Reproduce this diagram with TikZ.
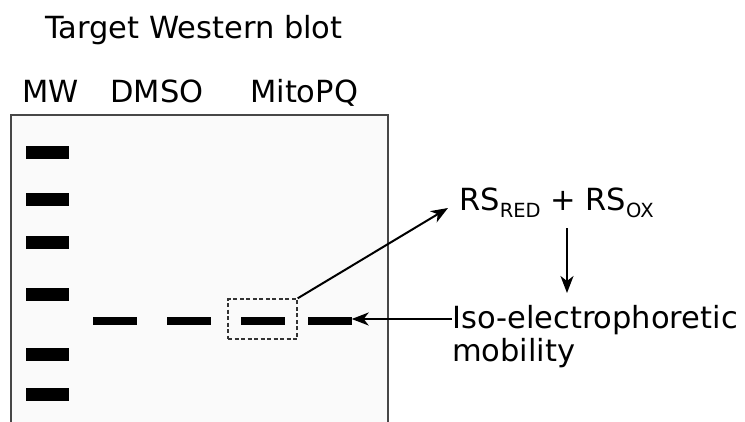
\documentclass[tikz,border=0pt]{standalone}
\usepackage{fontspec}
\setmainfont{DejaVu Sans}
\usetikzlibrary{arrows.meta}
\begin{document}
\begin{tikzpicture}[x=1pt,y=-1pt,
  lbl/.style={inner sep=0pt,anchor=base west,font=\fontsize{30.5}{36}\selectfont},
  mwband/.style={fill=black,inner sep=0pt,minimum width=43pt,minimum height=13pt},
  sband/.style={fill=black,inner sep=0pt,minimum width=44pt,minimum height=8pt},
  arr/.style={line width=2pt,-{Stealth[length=17pt,width=13pt,inset=5pt]}}]
\useasboundingbox (0,0) rectangle (745,421);
\begin{scope}
\clip (0,0) rectangle (745,421);
\draw[line width=2pt,draw=black!72,fill=black!2] (11,115) rectangle (388,440);
\end{scope}
\node[lbl] (title) at (45,38) {Target Western blot};
\node[lbl] (mw) at (22,102) {MW};
\node[lbl] (dmso) at (110,102) {DMSO};
\node[lbl] (mito) at (250,102) {MitoPQ};
\node[mwband] (m1) at (47.5,152.5) {};
\node[mwband] (m2) at (47.5,199.5) {};
\node[mwband] (m3) at (47.5,242.5) {};
\node[mwband] (m4) at (47.5,294.5) {};
\node[mwband] (m5) at (47.5,354.5) {};
\node[mwband] (m6) at (47.5,394.5) {};
\node[sband] (b1) at (115,320.5) {};
\node[sband] (b2) at (188.5,320.5) {};
\node[sband] (b3) at (263,320.5) {};
\node[sband] (b4) at (329.5,320.5) {};
\node[draw=black!80,dash pattern=on 4pt off 2.5pt,line width=1.4pt,inner sep=0pt,minimum width=69pt,minimum height=40pt] (sel) at (262.5,319) {};
\node[lbl] (rs) at (459,210) {RS\raisebox{-7pt}{\fontsize{19.5}{20}\selectfont RED} + RS\raisebox{-7pt}{\fontsize{19.5}{20}\selectfont OX}};
\node[lbl] (iso) at (452,328) {Iso-electrophoretic};
\node[lbl] (mob) at (452,361) {mobility};
\coordinate (rsin) at (448,208);
\coordinate (dtop) at (567,228);
\coordinate (dbot) at (567,293);
\draw[arr] (sel.north east) -- (rsin);
\draw[arr] (dtop) -- (dbot);
\draw[arr] (iso.west |- 0,319) -- (b4.east |- 0,319);
\end{tikzpicture}
\end{document}
